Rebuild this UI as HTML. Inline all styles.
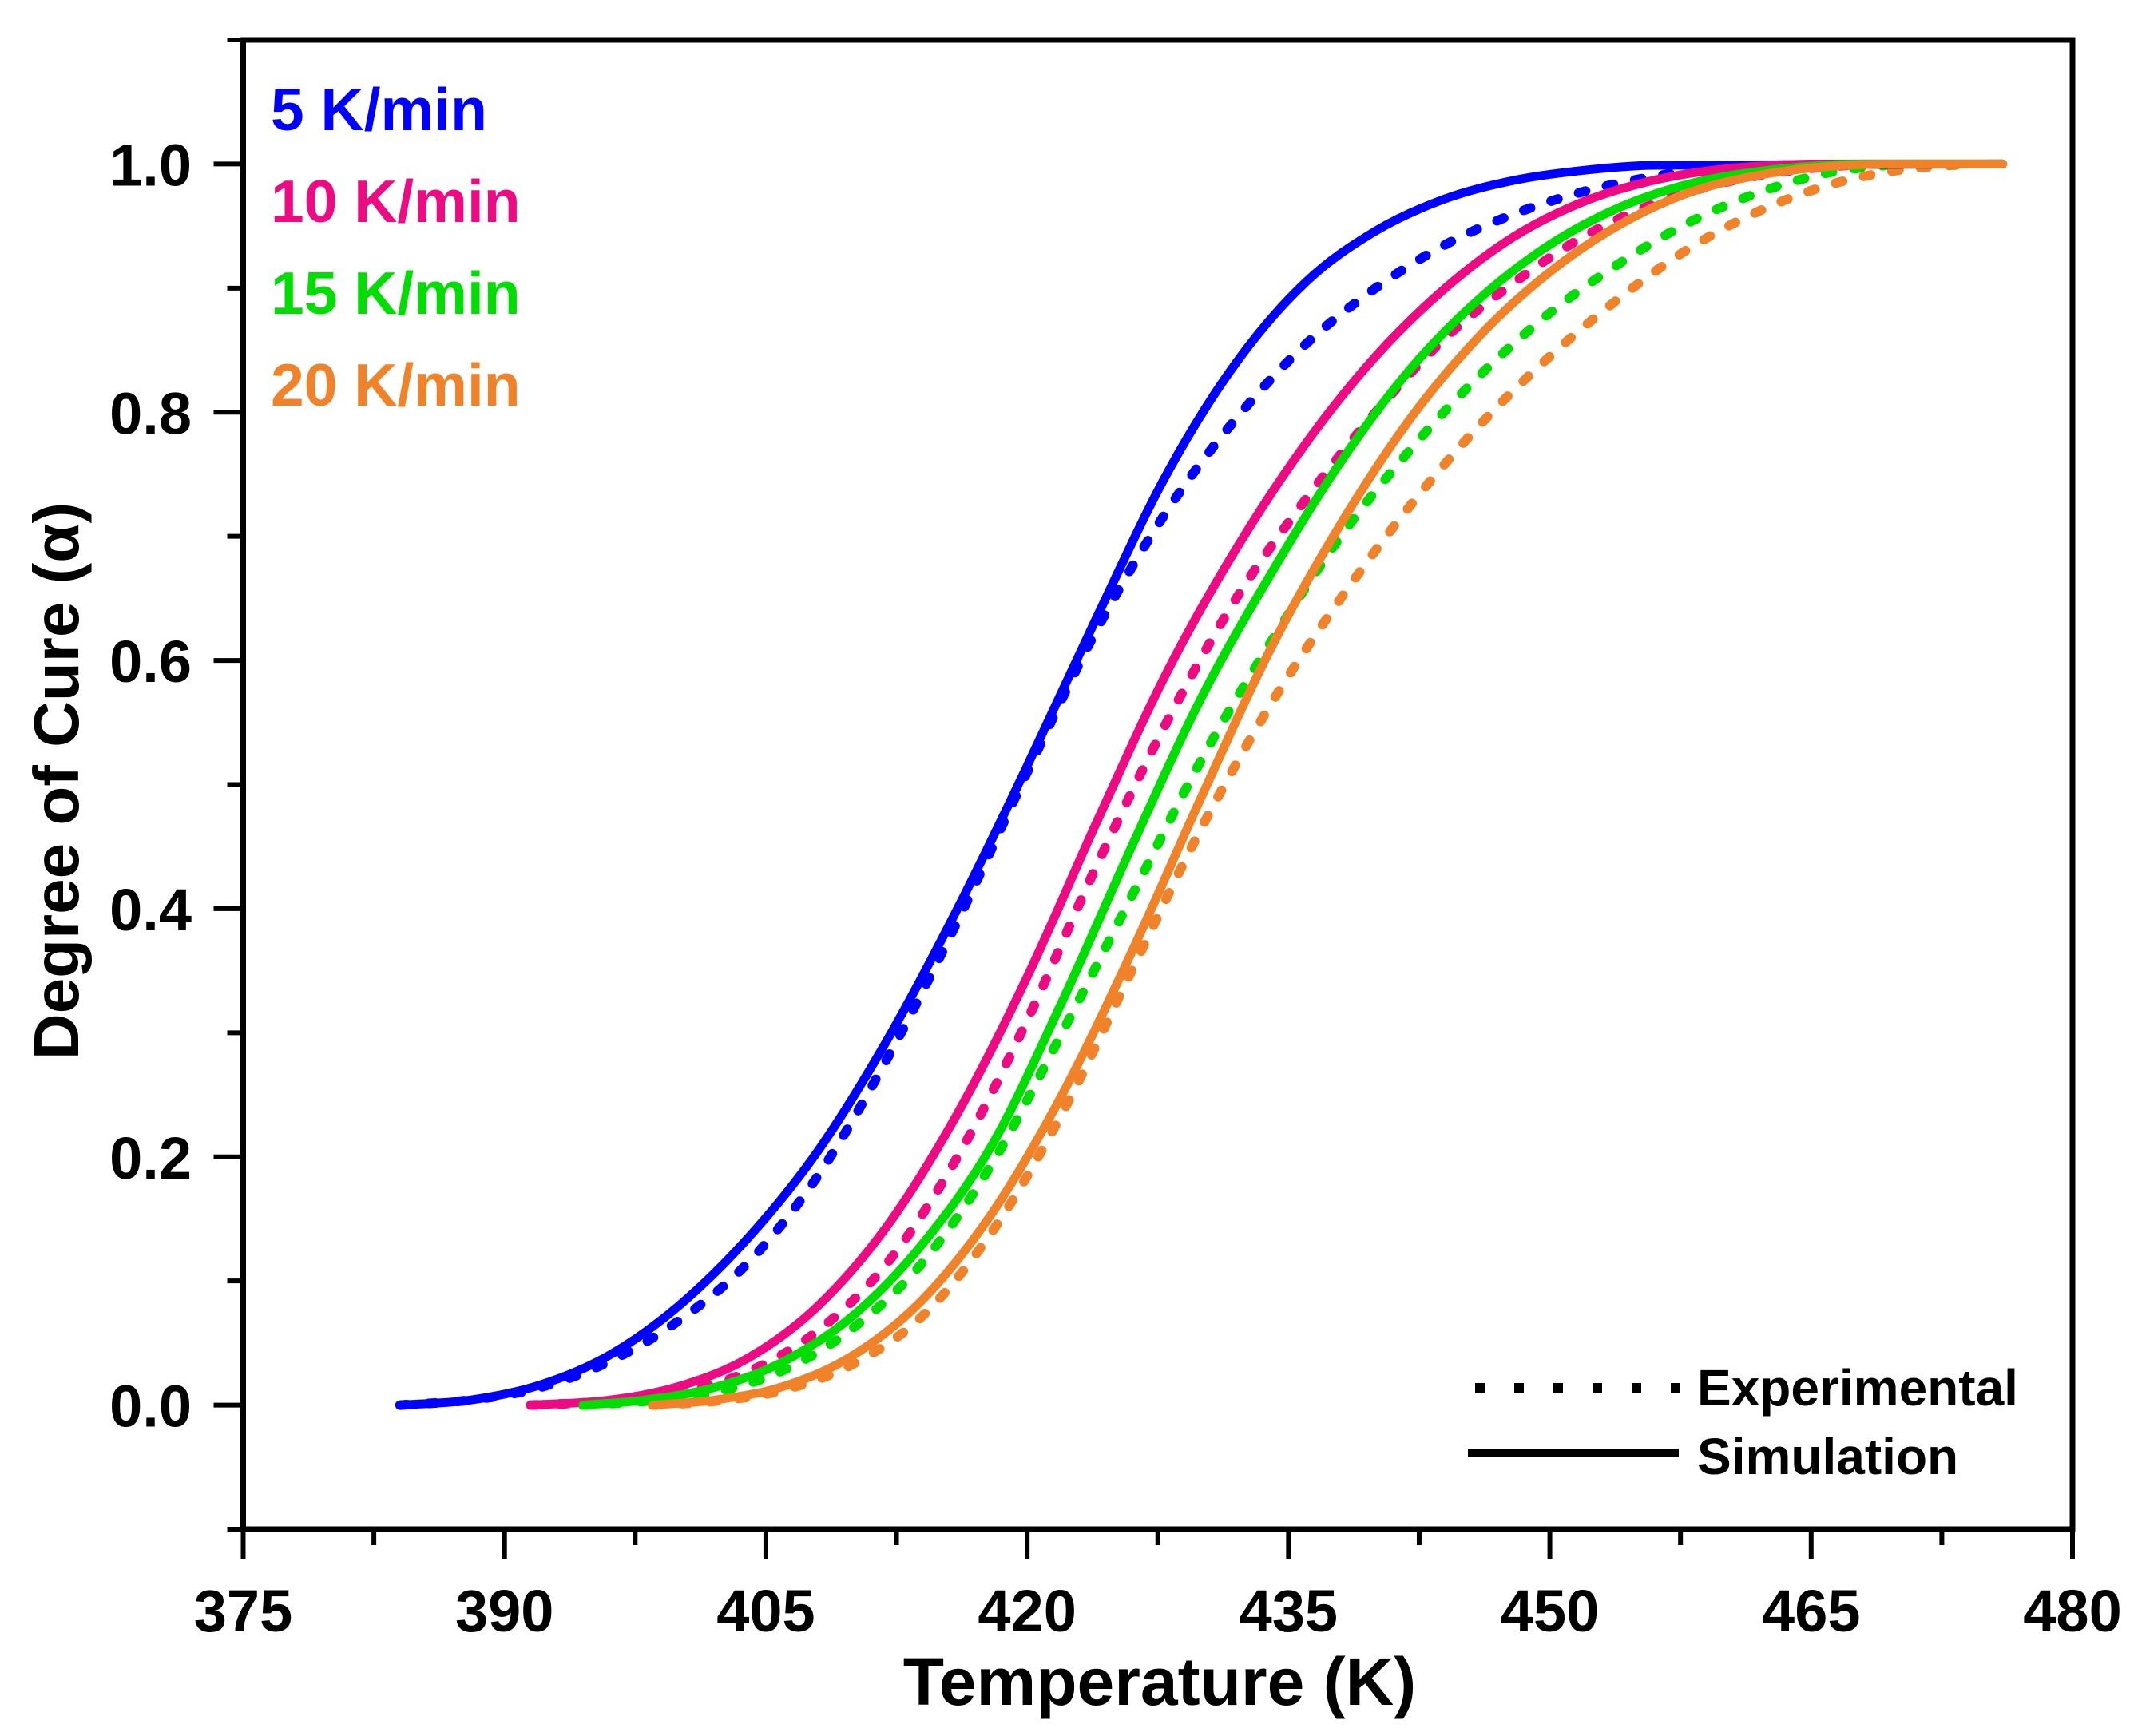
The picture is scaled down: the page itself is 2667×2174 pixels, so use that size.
<!DOCTYPE html>
<html><head><meta charset="utf-8"><style>
html,body{margin:0;padding:0;background:#fff;}
svg{display:block;font-family:"Liberation Sans",Arial,sans-serif;font-weight:bold;}
</style></head><body>
<svg id="chart" width="2667" height="2174" viewBox="0 0 2667 2174">
<g id="marks"></g>
<g id="axes"></g>
<text x="339" y="163" font-size="75" fill="#0000ff">5 K/min</text>
<text x="339" y="278" font-size="75" fill="#ee0a82">10 K/min</text>
<text x="339" y="393" font-size="75" fill="#00dd00">15 K/min</text>
<text x="339" y="508" font-size="75" fill="#f0832a">20 K/min</text>
<line x1="1847" y1="1738" x2="2104" y2="1738" stroke="#000" stroke-width="12" stroke-dasharray="12 37"/>
<text x="2125" y="1760" font-size="64" fill="#000">Experimental</text>
<line x1="1838" y1="1819" x2="2102" y2="1819" stroke="#000" stroke-width="10"/>
<text x="2125" y="1846" font-size="64" fill="#000">Simulation</text>
<text x="1452" y="2135" font-size="84" text-anchor="middle">Temperature (K)</text>
<text transform="translate(98,978) rotate(-90)" font-size="80" text-anchor="middle">Degree of Cure (α)</text>
</svg>
<script>
const xTicks = [375, 390, 405, 420, 435, 450, 465, 480];
const yTicks = [0.0, 0.2, 0.4, 0.6, 0.8, 1.0];
const seriesNames = ["5 K/min", "10 K/min", "15 K/min", "20 K/min"];
const seriesColors = ["#0000ff", "#ee0a82", "#00dd00", "#f0832a"];
const simT5 = [384,388,392,396,400,404,408,412,416,420,424,428,432,436,440,444,448,452,456,476];
const simA5 = [0,0.004,0.016,0.04,0.08,0.135,0.205,0.295,0.40,0.515,0.635,0.75,0.84,0.905,0.946,0.972,0.987,0.995,0.999,1];
const expT5 = [384,388,392,396,400,404,408,412,416,420,424,428,432,436,440,444,448,452,456,460,466];
const expA5 = [0,0.004,0.014,0.035,0.068,0.115,0.185,0.28,0.39,0.51,0.625,0.72,0.795,0.855,0.9,0.935,0.96,0.978,0.99,0.997,1];
const simT10 = [391.5,396,400,404,408,412,416,420,424,428,432,436,440,444,448,452,456,460,466,476];
const simA10 = [0,0.004,0.015,0.038,0.08,0.145,0.235,0.345,0.47,0.59,0.69,0.775,0.845,0.9,0.942,0.97,0.987,0.996,1,1];
const expT10 = [391.5,396,400,404,408,412,416,420,424,428,432,436,440,444,448,452,456,460,464,468];
const expA10 = [0,0.003,0.01,0.027,0.06,0.115,0.2,0.31,0.435,0.55,0.65,0.73,0.80,0.86,0.905,0.942,0.968,0.985,0.995,1];
const simT15 = [394.5,398,402,406,410,414,418,422,426,430,434,438,442,446,450,454,458,462,468,476];
const simA15 = [0,0.004,0.014,0.035,0.072,0.13,0.21,0.325,0.45,0.57,0.67,0.76,0.835,0.892,0.935,0.965,0.984,0.994,1,1];
const expT15 = [394.5,398,402,406,410,414,418,422,426,430,434,438,442,446,450,454,458,462,466,470];
const expA15 = [0,0.003,0.01,0.028,0.062,0.115,0.195,0.3,0.41,0.52,0.615,0.70,0.77,0.83,0.88,0.92,0.953,0.977,0.993,1];
const simT20 = [398.5,402,406,410,414,418,422,426,430,434,438,442,446,450,454,458,462,466,470,476];
const simA20 = [0,0.004,0.015,0.04,0.085,0.155,0.25,0.365,0.49,0.61,0.71,0.795,0.862,0.913,0.951,0.977,0.991,0.998,1,1];
const expT20 = [398.5,402,406,410,414,418,422,426,430,434,438,442,446,450,454,458,462,466,470,474];
const expA20 = [0,0.003,0.012,0.033,0.072,0.14,0.235,0.35,0.465,0.565,0.65,0.725,0.79,0.845,0.892,0.932,0.962,0.983,0.995,1];

const X0 = 304.5, X1 = 2595, Y0 = 1915, Y1 = 50;
const xMin = 375, xMax = 480, yMin = -0.1, yMax = 1.1;
function sx(v){ return X0 + (v - xMin) / (xMax - xMin) * (X1 - X0); }
function sy(v){ return Y0 - (v - yMin) / (yMax - yMin) * (Y0 - Y1); }
const NS = "http://www.w3.org/2000/svg";
function mk(tag, attrs, parent){
  const e = document.createElementNS(NS, tag);
  for (const k in attrs) e.setAttribute(k, attrs[k]);
  parent.appendChild(e); return e;
}
function pathFor(T, A){
  const n = T.length, px = T.map(sx), py = A.map(sy);
  const d = [], m = [];
  for (let i=0;i<n-1;i++) d.push((py[i+1]-py[i])/(px[i+1]-px[i]));
  m[0]=d[0]; m[n-1]=d[n-2];
  for (let i=1;i<n-1;i++) m[i] = (d[i-1]*d[i] <= 0) ? 0 : (d[i-1]+d[i])/2;
  for (let i=0;i<n-1;i++){
    if (d[i]===0){ m[i]=0; m[i+1]=0; continue; }
    const a=m[i]/d[i], b=m[i+1]/d[i], s=a*a+b*b;
    if (s>9){ const t=3/Math.sqrt(s); m[i]=t*a*d[i]; m[i+1]=t*b*d[i]; }
  }
  let p = "M" + px[0].toFixed(1) + "," + py[0].toFixed(1);
  for (let i=0;i<n-1;i++){
    const h=(px[i+1]-px[i])/3;
    p += " C" + (px[i]+h).toFixed(1)+","+(py[i]+m[i]*h).toFixed(1)+" "+(px[i+1]-h).toFixed(1)+","+(py[i+1]-m[i+1]*h).toFixed(1)+" "+px[i+1].toFixed(1)+","+py[i+1].toFixed(1);
  }
  return p;
}
const marks = document.getElementById("marks");
const sims = [[simT5,simA5],[simT10,simA10],[simT15,simA15],[simT20,simA20]];
const exps = [[expT5,expA5],[expT10,expA10],[expT15,expA15],[expT20,expA20]];
const tags = ["5","10","15","20"];
for (let i=0;i<4;i++){
  const e = mk("path", {d: pathFor(exps[i][0], exps[i][1]), fill:"none", stroke: seriesColors[i], "stroke-width":12, "stroke-dasharray":"9 27", "stroke-linecap":"round"}, marks);
  
  
}
for (let i=0;i<4;i++){
  const s = mk("path", {d: pathFor(sims[i][0], sims[i][1]), fill:"none", stroke: seriesColors[i], "stroke-width":11, "stroke-linecap":"round"}, marks);
  
  
}
const axes = document.getElementById("axes");
const frame = mk("rect", {x:X0, y:Y1, width:X1-X0, height:Y0-Y1, fill:"none", stroke:"#000", "stroke-width":7}, axes);


for (let v=375; v<=480.01; v+=7.5){
  const major = Math.abs((v-375)%15) < 0.01;
  const t = mk("line", {x1:sx(v), x2:sx(v), y1:Y0, y2:Y0+(major?37:20), stroke:"#000", "stroke-width":6}, axes);
  
  
}
xTicks.forEach(v=>{
  const l = mk("text", {x:sx(v), y:2043, "font-size":74, "text-anchor":"middle"}, axes);
  l.textContent = String(v);
  
  
});
for (let k=-1; k<=11; k++){
  const v = k/10, major = (k%2===0 && k>=0);
  const t = mk("line", {x1:X0-(major?37:20), x2:X0, y1:sy(v), y2:sy(v), stroke:"#000", "stroke-width":6}, axes);
  
  
}
yTicks.forEach(v=>{
  const l = mk("text", {x:240, y:sy(v)+27, "font-size":74, "text-anchor":"end"}, axes);
  l.textContent = v.toFixed(1);
  
  
});
</script>
</body></html>
